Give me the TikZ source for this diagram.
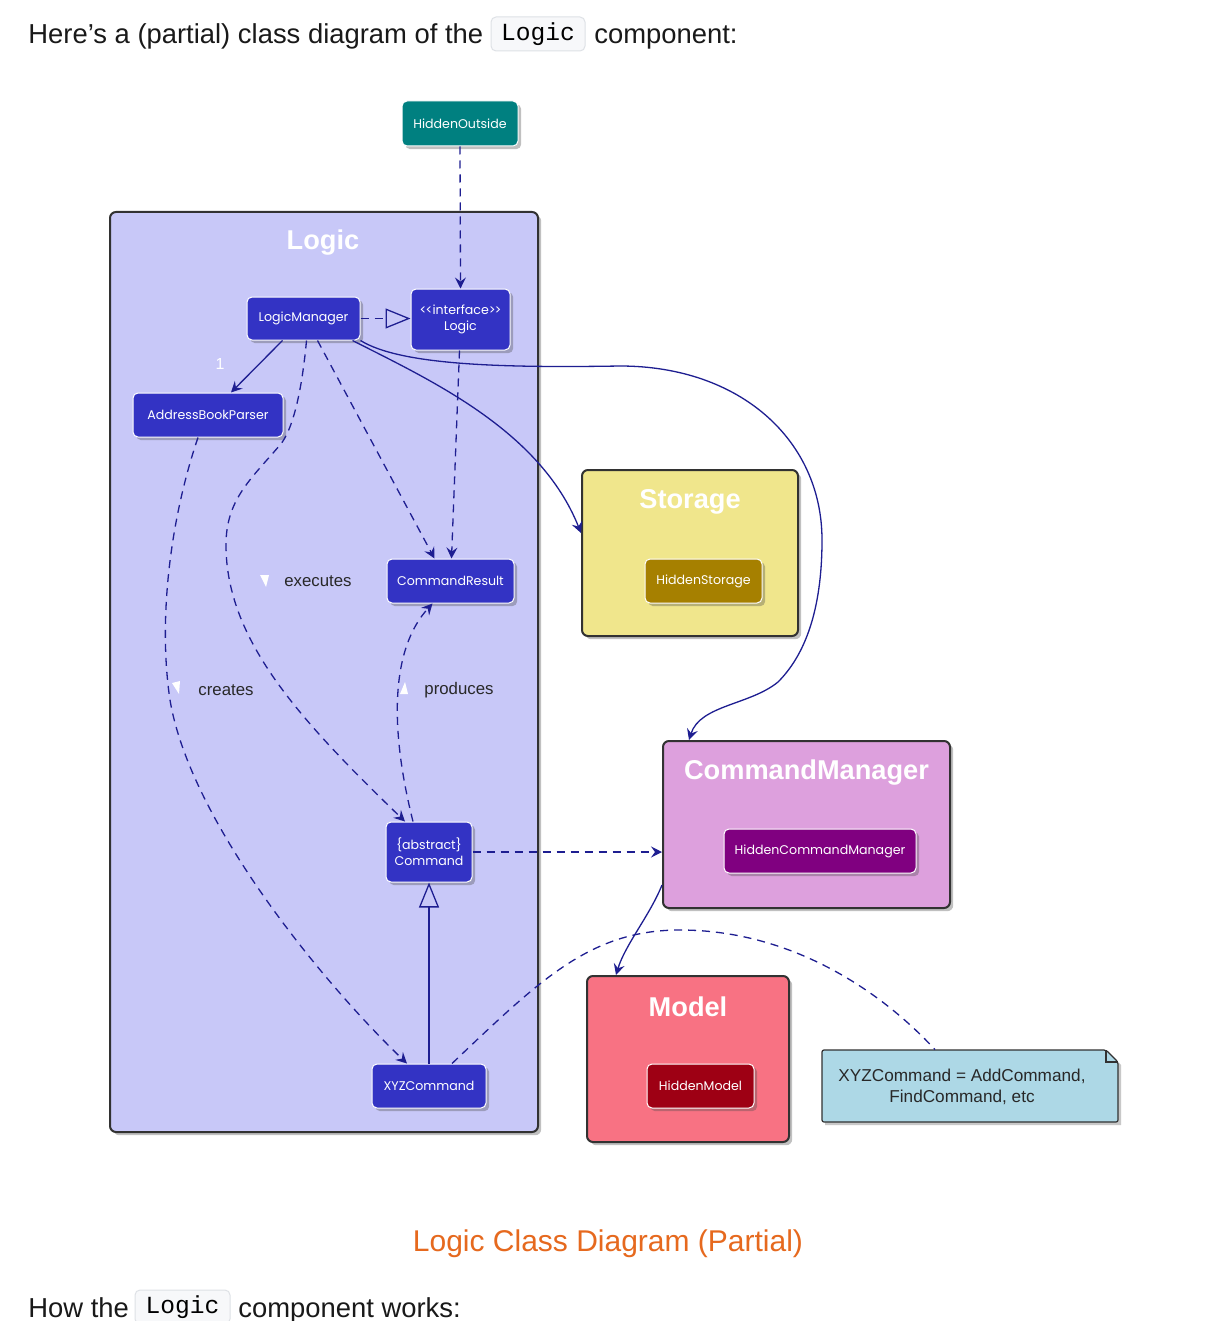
\documentclass[tikz,border=0pt]{standalone}
\usepackage{fontspec}
\setmainfont{Liberation Sans}
\newfontfamily\clsfont{Poppins}
\newfontfamily\codefont{Liberation Mono}
\usetikzlibrary{arrows.meta,shadows,calc}

\definecolor{lineblue}{RGB}{30,30,145}
\definecolor{clsblue}{RGB}{51,51,196}
\definecolor{pkLogic}{RGB}{200,200,248}
\definecolor{pkStorage}{RGB}{240,230,140}
\definecolor{pkCmd}{RGB}{221,160,221}
\definecolor{pkModel}{RGB}{248,114,131}
\definecolor{hidTeal}{RGB}{0,128,128}
\definecolor{hidStorage}{RGB}{166,128,0}
\definecolor{hidCmd}{RGB}{128,0,128}
\definecolor{hidModel}{RGB}{158,0,20}
\definecolor{noteblue}{RGB}{173,216,230}
\definecolor{pkborder}{RGB}{50,50,50}
\definecolor{captionorange}{RGB}{230,105,30}
\definecolor{lbltext}{RGB}{40,40,40}
\definecolor{codebg}{RGB}{247,248,250}
\definecolor{codeborder}{RGB}{222,225,230}

\tikzset{
  shad/.style={drop shadow={shadow xshift=1.6pt,shadow yshift=-1.6pt,opacity=0.35,fill=black!70}},
  pkg/.style={rectangle, rounded corners=3pt, draw=pkborder, line width=1pt, inner sep=0pt, shad},
  pkgtitle/.style={text=white, font=\bfseries\fontsize{13.6}{15}\selectfont, inner sep=0pt},
  cls/.style={rectangle, rounded corners=2.5pt, draw=white, line width=0.5pt, fill=clsblue,
    text=white, font=\clsfont\fontsize{6.3}{8}\selectfont, align=center, inner sep=0pt, shad},
  conn/.style={draw=lineblue, line width=0.65pt},
  dashconn/.style={conn, dash pattern=on 4pt off 3pt},
  tip/.style={-{Stealth[length=5.5pt,width=5.5pt,inset=2pt]}},
  hollow/.style={-{Triangle[open,length=12.5pt,width=10pt,fill=pkLogic]}},
  lbl/.style={text=lbltext, font=\fontsize{8.4}{10}\selectfont, inner sep=0pt},
  body/.style={font=\fontsize{13.7}{16}\selectfont, inner sep=0pt, text=black!90},
  codebox/.style={rectangle, rounded corners=2.5pt, fill=codebg, draw=codeborder, line width=0.5pt,
    font=\codefont\fontsize{12.3}{14}\selectfont, inner sep=0pt},
}

\begin{document}
\begin{tikzpicture}[x=0.5pt,y=-0.5pt]
\useasboundingbox[fill=white] (0,0) rectangle (1225,1321);

% surrounding text
\node[body, anchor=base west] (introA) at (28,44) {Here’s a (partial) class diagram of the};
\node[codebox, minimum width=47pt, minimum height=17pt] (introCode) at (538,34) {Logic};
\node[body, anchor=base west] (introB) at (594,44) {component:};

\node[text=captionorange, font=\fontsize{15}{18}\selectfont, inner sep=0pt, anchor=base] (caption) at (608,1251) {Logic Class Diagram (Partial)};

\node[body, anchor=base west] (howA) at (28,1317) {How the};
\node[codebox, minimum width=47.5pt, minimum height=17pt] (howCode) at (182.5,1307) {Logic};
\node[body, anchor=base west] (howB) at (238,1317) {component works:};

% packages
\node[pkg, fill=pkLogic, minimum width=214pt, minimum height=460pt] (LogicPkg) at (324,672) {};
\node[pkgtitle] (LogicTitle) at (323,243) {Logic};

\node[pkg, fill=pkStorage, minimum width=108pt, minimum height=83pt] (Storage) at (690,553) {};
\node[pkgtitle] (StorageTitle) at (690,502) {Storage};

\node[pkg, fill=pkCmd, minimum width=143.5pt, minimum height=83.5pt] (CM) at (806.5,824.5) {};
\node[pkgtitle] (CMTitle) at (806.5,773) {CommandManager};

\node[pkg, fill=pkModel, minimum width=101pt, minimum height=83pt] (Model) at (688,1059) {};
\node[pkgtitle] (ModelTitle) at (688,1007) {Model};

% note
\path[fill=black!70, opacity=0.3] (825,1053) -- (1109,1053) -- (1121,1065) -- (1121,1125) -- (825,1125) -- cycle;
\draw[fill=noteblue, draw=pkborder, line width=0.6pt, rounded corners=1pt]
  (822,1050) -- (1106,1050) -- (1118,1062) -- (1118,1122) -- (822,1122) -- cycle;
\draw[draw=pkborder, line width=0.6pt] (1106,1050) -- (1106,1062) -- (1118,1062);
\node[inner sep=0pt, minimum width=148pt, minimum height=36pt] (note) at (970,1086) {};
\node[text=lbltext, font=\fontsize{8.6}{10.6}\selectfont, align=center, inner sep=0pt] (noteText) at (962,1087)
  {XYZCommand = AddCommand,\\FindCommand, etc};

% classes
\node[cls, fill=hidTeal, minimum width=58pt, minimum height=22.5pt] (HO) at (460,123.5) {HiddenOutside};
\node[cls, minimum width=56.5pt, minimum height=21.5pt] (LM) at (303.5,318.5) {LogicManager};
\node[cls, minimum width=49.5pt, minimum height=30.5pt] (IL) at (460.5,319.5) {<\kern-.5pt<interface>\kern-.5pt>\\Logic};
\node[cls, minimum width=75pt, minimum height=22pt] (ABP) at (208,415) {AddressBookParser};
\node[cls, minimum width=63.5pt, minimum height=22pt] (CR) at (450.5,581) {CommandResult};
\node[cls, minimum width=43pt, minimum height=30pt] (Cmd) at (429,852) {\{abstract\}\\Command};
\node[cls, minimum width=57pt, minimum height=22pt] (XYZ) at (429,1086) {XYZCommand};
\node[cls, fill=hidStorage, minimum width=58.5pt, minimum height=22pt] (HS) at (703.5,581) {HiddenStorage};
\node[cls, fill=hidCmd, minimum width=96pt, minimum height=22pt] (HCM) at (820,851) {HiddenCommandManager};
\node[cls, fill=hidModel, minimum width=53.5pt, minimum height=22pt] (HM) at (700.5,1086) {HiddenModel};

% connector labels
\node[text=white, font=\fontsize{8}{9}\selectfont, inner sep=0pt] (multOne) at (220,364) {1};
\node[lbl] (lblExec) at (318,581) {executes};
\node[lbl] (lblCreate) at (226,690) {creates};
\node[lbl] (lblProd) at (459,690) {produces};
\fill[white] (260,575) -- (269,575) -- (266,587) -- cycle;
\fill[white] (172,683) -- (180,681) -- (179,694) -- cycle;
\fill[white] (400,694) -- (408,694) -- (405,682) -- cycle;

% connectors
\draw[dashconn, tip] (HO.south) -- (IL.north);
\draw[dashconn, hollow] (LM.east) -- (LM.east -| IL.west);
\draw[conn, tip] ($(LM.south)+(-21,0)$) -- ($(ABP.north)+(23,0)$);
\draw[dashconn, tip] ($(IL.south)+(-1,0)$) -- ($(CR.north)+(1,0)$);
\draw[dashconn, tip] ($(LM.south)+(14,0)$) -- ($(CR.north)+(-16,0)$);

% executes
\draw[dashconn, tip] ($(LM.south)+(3,0)$) .. controls (302,390) and (293,430) .. (280,445)
  .. controls (250,480) and (226,500) .. (226,545)
  .. controls (226,640) and (300,720) .. ($(Cmd.north)+(-24,0)$);
% creates
\draw[dashconn, tip] ($(ABP.south)+(-10,0)$) .. controls (170,520) and (158,620) .. (170,700)
  .. controls (190,820) and (320,980) .. ($(XYZ.north)+(-22,0)$);
% produces
\draw[dashconn, tip] ($(Cmd.north)+(-16,0)$) .. controls (390,730) and (390,650) .. ($(CR.south)+(-18,0)$);
% inheritance
\draw[conn, hollow] (XYZ.north) -- (Cmd.south);
% Command uses CommandManager
\draw[dashconn, tip] (Cmd.east) -- (Cmd.east -| CM.west);

% LogicManager to Storage
\draw[conn, tip] ($(LM.south east)+(-8,0)$) .. controls (430,380) and (540,430) .. ($(Storage.west)+(0,-20)$);
% LogicManager to CommandManager
\draw[conn, tip] (LM.south east) .. controls (400,365) and (500,368) .. (620,366)
  .. controls (740,366) and (822,440) .. (822,540)
  .. controls (822,610) and (805,655) .. (778,682)
  .. controls (750,705) and (700,705) .. ($(CM.north west)+(27,0)$);
% CommandManager to Model
\draw[conn, tip] ($(CM.south west)+(0,-24)$) .. controls (650,915) and (625,945) .. ($(Model.north west)+(30,0)$);
% note link
\draw[dashconn] ($(XYZ.north)+(23,0)$) .. controls (540,980) and (590,930) .. (680,930)
  .. controls (790,930) and (880,990) .. ($(note.north)+(-35,0)$);
\end{tikzpicture}
\end{document}
